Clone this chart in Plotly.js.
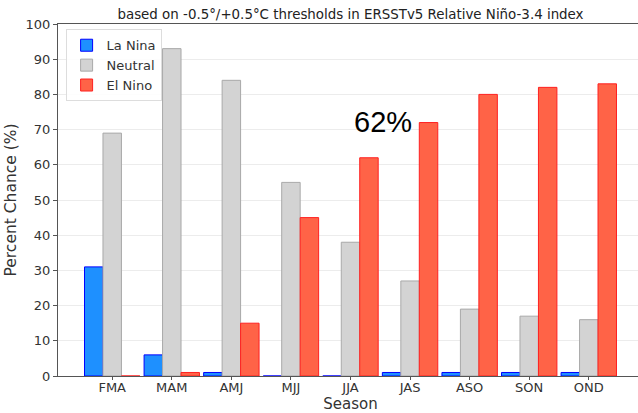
<!DOCTYPE html>
<html><head><meta charset="utf-8">
<script src="https://cdn.plot.ly/plotly-3.0.1.min.js"></script>
<style>html,body{margin:0;padding:0;overflow:hidden;background:#fff}</style>
</head><body><div id="chart"></div>
<script>
const seasons = ["FMA","MAM","AMJ","MJJ","JJA","JAS","ASO","SON","OND"];
const laNina  = [31, 6, 1, 0, 0, 1, 1, 1, 1];
const neutral = [69, 93, 84, 55, 38, 27, 19, 17, 16];
const elNino  = [0, 1, 15, 45, 62, 72, 80, 82, 83];
const yTicks = [0,10,20,30,40,50,60,70,80,90,100];

const font = "DejaVu Sans, sans-serif";
const traces = [
  {type:"bar", name:"La Nina", x:seasons, y:laNina,
   marker:{color:"#1E90FF", line:{color:"#0000FF", width:1}}},
  {type:"bar", name:"Neutral", x:seasons, y:neutral,
   marker:{color:"#D3D3D3", line:{color:"#A9A9A9", width:1}}},
  {type:"bar", name:"El Nino", x:seasons, y:elNino,
   marker:{color:"#FF6347", line:{color:"#FF2020", width:1}}}
];
const layout = {
  width: 650, height: 413,
  margin:{l:58, r:7, t:24, b:37},
  paper_bgcolor:"#fff", plot_bgcolor:"#fff",
  barmode:"group", bargap:0.07, bargroupgap:0,
  font:{family:font, size:13, color:"#333"},
  title:{text:"based on -0.5°/+0.5°C thresholds in ERSSTv5 Relative Niño-3.4 index",
         x:0.5, xref:"paper", y:0.966, yref:"container", yanchor:"middle", font:{size:13.4, color:"#222"}},
  xaxis:{type:"category", range:[-0.91, 8.91], showgrid:false,
         ticks:"outside", ticklen:3, tickcolor:"#555", showline:true, linecolor:"#555", linewidth:1,
         mirror:true, tickfont:{size:13, color:"#333"}, ticklabelstandoff:-4, automargin:false,
         title:{text:"Season", font:{size:15, color:"#333"}, standoff:3}},
  yaxis:{range:[0,100], tickvals:yTicks, showgrid:true, gridcolor:"#ececec",
         ticks:"outside", ticklen:4, tickcolor:"#555", showline:true, linecolor:"#555", linewidth:1,
         mirror:true, zeroline:false, tickfont:{size:13, color:"#333"},
         title:{text:"Percent Chance (%)", font:{size:15.5, color:"#333"}, standoff:5}},
  legend:{x:0.013, y:0.985, xanchor:"left", yanchor:"top", bgcolor:"rgba(255,255,255,0.9)",
          bordercolor:"#ddd", borderwidth:1, font:{size:13, color:"#333"}, itemwidth:30},
  annotations:[{xref:"x", yref:"y", x:4.55, y:72.2, text:"62%", showarrow:false,
                font:{family:"Liberation Sans, Arial, sans-serif", size:29, color:"#000"}}],
  showlegend:true
};
Plotly.newPlot("chart", traces, layout, {displayModeBar:false, staticPlot:true});
</script></body></html>
